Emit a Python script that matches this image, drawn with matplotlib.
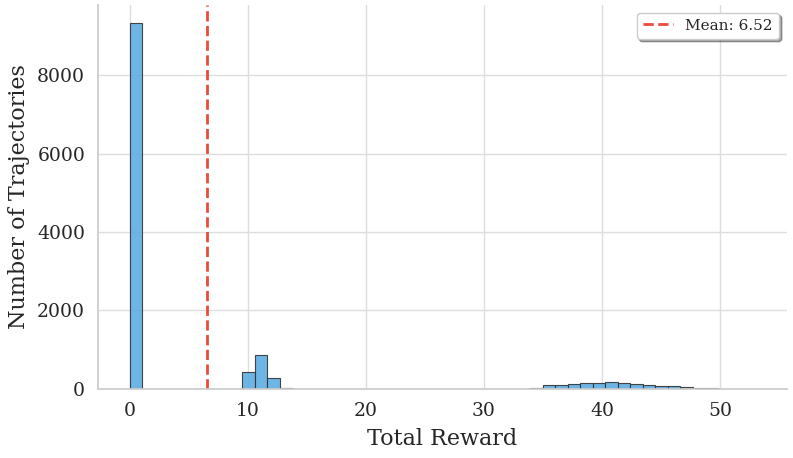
import numpy as np
import matplotlib
matplotlib.use("Agg")
import matplotlib.pyplot as plt
import seaborn as sns

# histogram of total reward per trajectory (50 bins over 0..53)
reward_min = 0.0
reward_max = 53.0
bin_counts = [
    9330, 0, 0, 0, 0, 0, 0, 0, 0, 436,
    872, 264, 30, 0, 0, 0, 0, 0, 0, 0,
    0, 0, 0, 0, 0, 0, 0, 0, 2, 5,
    6, 8, 30, 110, 95, 130, 160, 160, 187, 160,
    135, 100, 77, 60, 40, 25, 15, 8, 5, 2,
]
mean_reward = 6.52

sns.set_theme(style="whitegrid")
plt.rcParams['font.family'] = ['DejaVu Serif']

edges = np.linspace(reward_min, reward_max, len(bin_counts) + 1)
centers = (edges[:-1] + edges[1:]) / 2

fig, ax = plt.subplots(figsize=(7.93, 4.58), dpi=100)
fig.subplots_adjust(left=0.124, right=0.992, bottom=0.151, top=0.989)
ax.hist(centers, bins=edges, weights=bin_counts, color='#5DADE2',
        edgecolor='#333333', linewidth=0.8, alpha=0.9)
ax.axvline(mean_reward, color='#E74C3C', linestyle='--', linewidth=2,
           label=f'Mean: {mean_reward:.2f}')

ax.set_xlabel("Total Reward", fontsize=16, labelpad=6)
ax.set_ylabel("Number of Trajectories", fontsize=16, labelpad=5)
ax.tick_params(labelsize=13.5)
ax.grid(True, color='#dddddd', linewidth=1)
ax.legend(loc='upper right', fontsize=11, shadow=True, frameon=True)
sns.despine(ax=ax)

plt.savefig("out.png", dpi=100)
